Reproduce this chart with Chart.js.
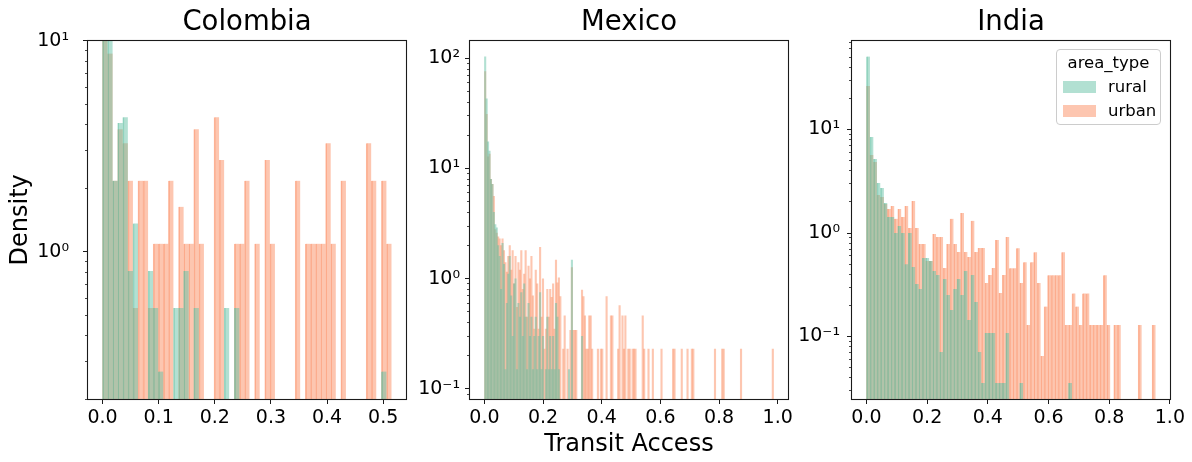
<!DOCTYPE html>
<html><head><meta charset="utf-8">
<script src="https://cdn.jsdelivr.net/npm/chart.js@4.4.1/dist/chart.umd.min.js"></script>
<style>
html,body{margin:0;padding:0;background:#fff;}
#wrap{position:relative;width:1192px;height:462px;overflow:hidden;background:#fff;}
canvas{position:absolute;top:0;}
#legend{position:absolute;left:1056px;top:49px;width:103px;height:74px;border:1px solid #cccccc;border-radius:4px;background:rgba(255,255,255,0.8);font-family:'DejaVu Sans',sans-serif;font-size:16.5px;color:#000;z-index:5;}
#legend .t{position:absolute;left:0;right:0;top:2px;line-height:22px;text-align:center;}
#legend .sw{position:absolute;left:6px;width:33px;height:12px;}
#legend .lab{position:absolute;left:51px;line-height:22px;}
</style></head><body>
<div id="wrap">
<canvas id="c1" width="420" height="462" style="left:0px"></canvas>
<canvas id="c2" width="380" height="462" style="left:420px"></canvas>
<canvas id="c3" width="392" height="462" style="left:800px"></canvas>
<div id="legend">
  <div class="t">area_type</div>
  <div class="sw" style="top:31px;background:rgba(102,194,165,0.5)"></div><div class="lab" style="top:26px">rural</div>
  <div class="sw" style="top:55px;background:rgba(252,141,98,0.5)"></div><div class="lab" style="top:50px">urban</div>
</div>
</div>
<script>
// ---------------- data ----------------
const panelTitles = ['Colombia', 'Mexico', 'India'];
const seriesNames = ['rural', 'urban'];

const colombiaBinWidth = 0.009033;
const colombiaRural = [
  12, 12, 2.17, 4.07, 4.34, 0.81, 1.36, 0, 0, 0.81,
  0.54, 0.27, 0, 0, 0.54, 0.54, 0.81, 0, 0.54, 0,
  0, 0, 0, 0, 0.54, 0, 0.54, 0, 0, 0,
  0, 0, 0, 0, 0, 0, 0, 0, 0, 0,
  0, 0, 0, 0, 0, 0, 0, 0, 0, 0,
  0, 0, 0, 0, 0, 0.27, 0];
const colombiaUrban = [
  11, 8.69, 2.17, 3.8, 3.26, 2.17, 0.54, 2.17, 2.17, 0.54,
  1.09, 1.09, 1.09, 2.17, 0, 1.63, 1.09, 1.09, 3.8, 1.09,
  0, 0, 4.34, 2.72, 0, 0, 1.09, 1.09, 2.17, 0,
  1.09, 0, 2.72, 1.09, 0, 0, 0, 0, 2.17, 0,
  1.09, 1.09, 1.09, 1.09, 3.26, 1.09, 0, 2.17, 0, 0,
  0, 0, 3.26, 2.17, 0, 2.17, 1.09];

const mexicoBinWidth = 0.00493;
const mexicoRural = [
  103, 43, 17.5, 14.4, 8.0, 7.2, 4.0, 3.1, 2.9, 2.0,
  1.6, 0.8, 2.1, 1.35, 0.15, 0.6, 1.1, 1.6, 0.7, 0.3,
  0.9, 1.0, 0.15, 0.6, 0.45, 0.75, 0.3, 0.9, 0.45, 0.15,
  0.6, 0.3, 0.45, 0.15, 0.3, 0.45, 0.15, 0.3, 0.75, 0.15,
  0.3, 0, 0.15, 0.45, 0.15, 0.3, 0.15, 0.3, 0.15, 0.6,
  0.45, 0.15, 0, 0, 0, 0, 0, 0, 0.15, 0,
  1.48, 0, 0, 0, 0, 0, 0, 0.3, 0, 0,
  0, 0, 0, 0, 0, 0, 0, 0, 0, 0,
  0, 0, 0, 0, 0, 0, 0, 0, 0, 0,
  0, 0, 0, 0, 0, 0, 0, 0, 0, 0,
  0, 0, 0, 0, 0, 0, 0, 0, 0, 0,
  0, 0, 0, 0, 0, 0, 0, 0, 0, 0,
  0, 0, 0, 0, 0, 0, 0, 0, 0, 0,
  0, 0, 0, 0, 0, 0, 0, 0, 0, 0,
  0, 0, 0, 0, 0, 0, 0, 0, 0, 0,
  0, 0, 0, 0, 0, 0, 0, 0, 0, 0,
  0, 0, 0, 0, 0, 0, 0, 0, 0, 0,
  0, 0, 0, 0, 0, 0, 0, 0, 0, 0,
  0, 0, 0, 0, 0, 0, 0, 0, 0, 0,
  0, 0, 0, 0, 0, 0, 0, 0, 0, 0];
const mexicoUrban = [
  76, 31, 12.8, 13.5, 8.0, 7.2, 5.6, 2.8, 2.6, 2.4,
  2.3, 2.0, 2.3, 1.8, 1.4, 1.15, 1.6, 2.0, 1.2, 1.8,
  0.9, 1.6, 0.55, 1.4, 1.2, 1.8, 0.8, 1.1, 1.8, 0.45,
  1.3, 1.0, 1.6, 0.7, 0.35, 1.2, 0.9, 0.35, 1.93, 0.45,
  1.0, 0.23, 0.35, 0.8, 0.45, 0.8, 0.68, 0.9, 0.35, 1.48,
  0.92, 1.02, 0.69, 0, 0.23, 0.46, 0, 0.23, 0, 0.34,
  1.26, 0.34, 0.34, 0.34, 0, 0, 0, 0.79, 0.69, 0.46,
  0.23, 0.23, 0.46, 0.46, 0.23, 0, 0, 0, 0.23, 0,
  0.23, 0.23, 0, 0, 0.69, 0, 0, 0.46, 0.46, 0,
  0, 0, 0.23, 0.57, 0, 0.46, 0.23, 0.46, 0, 0.23,
  0.23, 0, 0.23, 0.23, 0.23, 0, 0, 0, 0, 0.46,
  0.23, 0, 0, 0.23, 0, 0, 0.23, 0, 0, 0,
  0, 0, 0.23, 0, 0, 0, 0, 0, 0, 0,
  0.23, 0.23, 0, 0, 0, 0, 0.23, 0, 0, 0,
  0.23, 0, 0, 0.23, 0.23, 0, 0, 0, 0, 0,
  0, 0, 0, 0, 0, 0, 0, 0, 0, 0.23,
  0, 0, 0, 0, 0.23, 0.23, 0, 0, 0, 0,
  0, 0, 0, 0, 0, 0, 0, 0.23, 0, 0,
  0, 0, 0, 0, 0, 0, 0, 0, 0, 0,
  0, 0, 0, 0, 0, 0, 0, 0, 0, 0.23];

const indiaBinWidth = 0.01148;
const indiaRural = [
  50.6, 8.46, 5.19, 3.04, 2.72, 1.95, 1.43, 1.43, 1.0, 1.17,
  1.0, 0.50, 1.0, 0.469, 0.322, 0.288, 0.574, 0.574, 0.537, 0.43,
  0.393, 0.0708, 0.36, 0.252, 0.18, 0.288, 0.36, 0.252, 0.43, 0.144,
  0.393, 0.216, 0.0708, 0.0356, 0.108, 0.108, 0.108, 0.0356, 0.0356, 0.0356,
  0.108, 0, 0, 0, 0.0356, 0, 0, 0, 0, 0,
  0, 0, 0, 0, 0, 0, 0, 0, 0.0356, 0,
  0, 0, 0, 0, 0, 0, 0, 0, 0, 0,
  0, 0, 0, 0, 0, 0, 0, 0, 0, 0,
  0, 0, 0];
const indiaUrban = [
  26.3, 5.67, 4.85, 2.33, 2.23, 1.91, 1.71, 1.82, 1.37, 1.71,
  1.43, 1.82, 1.12, 2.04, 1.12, 0.783, 0.783, 0.537, 0.537, 0.978,
  0.915, 0.915, 0.459, 0.783, 1.37, 0.783, 0.655, 1.56, 0.655, 0.586,
  1.31, 0.655, 0.716, 0.716, 0.329, 0.393, 0.459, 0.856, 0.263, 0.393,
  0.915, 0.456, 0.456, 0.711, 0.329, 0.521, 0.129, 0.521, 0.651, 0.329,
  0.0648, 0.195, 0.39, 0.39, 0.39, 0.39, 0.651, 0.129, 0.129, 0.261,
  0.195, 0.129, 0.261, 0.261, 0.129, 0.129, 0.129, 0.129, 0.39, 0.129,
  0, 0.129, 0.129, 0, 0, 0, 0, 0, 0.129, 0,
  0, 0, 0.129];

const xTicksColombia = [0, 0.1, 0.2, 0.3, 0.4, 0.5];
const xTicksWide = [0, 0.2, 0.4, 0.6, 0.8, 1.0];
const yMajorColombia = [1, 10];
const yMajorMexico = [0.1, 1, 10, 100];
const yMajorIndia = [0.1, 1, 10];
const yTickLabels = {'0.1': '10\u207B\u00B9', '1': '10\u2070', '10': '10\u00B9', '100': '10\u00B2'};

// ---------------- rendering ----------------
Chart.defaults.font.family = "'DejaVu Sans', sans-serif";
Chart.defaults.color = '#000';

const ruralFill = 'rgba(102,194,165,0.5)';
const urbanFill = 'rgba(252,141,98,0.5)';
const ruralEdge = 'rgba(102,194,165,0.62)';
const urbanEdge = 'rgba(252,141,98,0.62)';
const TICK_FONT = {size: 19};

function toPoints(values, w) {
  return values.map((v, i) => ({x: (i + 0.5) * w, y: v > 0 ? v : null}));
}
function minorTicks(min, max) {
  const out = [];
  for (let e = Math.floor(Math.log10(min)) ; e <= Math.ceil(Math.log10(max)); e++) {
    for (let m = 2; m <= 9; m++) {
      const v = m * Math.pow(10, e);
      if (v >= min * 0.999 && v <= max * 1.001) out.push(v);
    }
  }
  return out;
}
const framePlugin = {
  id: 'frame',
  afterDatasetsDraw(chart) {
    const {ctx, chartArea: a} = chart;
    const l = Math.round(a.left), t = Math.round(a.top), r = Math.round(a.right), b = Math.round(a.bottom);
    ctx.save();
    ctx.strokeStyle = '#1a1a1a';
    ctx.lineWidth = 1.1;
    ctx.strokeRect(l - 0.5, t - 0.5, r - l + 1, b - t + 1);
    ctx.restore();
  }
};

function makeChart(id, cfg) {
  const edge = cfg.edge ? {left: 1, top: 0, right: 0, bottom: 0} : 0;
  const common = {grouped: false, barPercentage: 1, categoryPercentage: 1, borderWidth: edge, xAxisID: 'x', yAxisID: 'y'};
  new Chart(document.getElementById(id), {
    type: 'bar',
    data: {
      datasets: [
        Object.assign({label: seriesNames[0], data: toPoints(cfg.rural, cfg.w), backgroundColor: ruralFill, borderColor: ruralEdge}, common),
        Object.assign({label: seriesNames[1], data: toPoints(cfg.urban, cfg.w), backgroundColor: urbanFill, borderColor: urbanEdge}, common)
      ]
    },
    options: {
      responsive: false,
      animation: false,
      events: [],
      layout: {padding: {left: 0, right: cfg.padRight, top: 0, bottom: 0}},
      plugins: {
        legend: {display: false},
        tooltip: {enabled: false},
        title: {display: true, text: cfg.title, fullSize: false, color: '#000',
                font: {size: 27.5, weight: 'normal', lineHeight: 1.2}, padding: {top: 6.7, bottom: 1}}
      },
      scales: {
        x: {
          type: 'linear', position: 'bottom', min: cfg.xMin, max: cfg.xMax, offset: false,
          afterBuildTicks: s => { s.ticks = cfg.xTicks.map(v => ({value: v})); },
          afterFit: s => { s.height = 63; },
          ticks: {autoSkip: false, maxRotation: 0, color: '#000', font: TICK_FONT, padding: 3,
                  callback: v => Number(v).toFixed(1)},
          grid: {drawOnChartArea: false, drawTicks: true, tickLength: 5, color: '#1a1a1a', offset: false},
          border: {display: false},
          title: cfg.xTitle ? {display: true, text: cfg.xTitle, color: '#000',
                  font: {size: 24, lineHeight: 1.2}, padding: {top: 0, bottom: 2.6}} : {display: false}
        },
        y: {
          type: 'logarithmic', position: 'left', min: cfg.yMin, max: cfg.yMax, weight: 1,
          afterBuildTicks: s => { s.ticks = cfg.yMajor.map(v => ({value: v, major: true})); },
          afterFit: s => { s.width = cfg.yWidth; },
          ticks: {autoSkip: false, color: '#000', font: TICK_FONT, padding: cfg.yPad,
                  callback: v => yTickLabels[String(v)] || ''},
          grid: {drawOnChartArea: false, drawTicks: true, tickLength: 5, color: '#1a1a1a'},
          border: {display: false},
          title: cfg.yTitle ? {display: true, text: cfg.yTitle, color: '#000',
                  font: {size: 24, lineHeight: 1.2}, padding: {top: 6.3, bottom: 0}} : {display: false}
        },
        yMinor: {
          type: 'logarithmic', position: 'left', min: cfg.yMin, max: cfg.yMax, weight: 0,
          afterBuildTicks: s => { s.ticks = minorTicks(cfg.yMin, cfg.yMax).map(v => ({value: v})); },
          afterFit: s => { s.width = 0; },
          ticks: {display: false, autoSkip: false},
          grid: {drawOnChartArea: false, drawTicks: true, tickLength: 3, color: '#1a1a1a', lineWidth: 0.8},
          border: {display: false}
        }
      }
    },
    plugins: [framePlugin]
  });
}

makeChart('c1', {title: panelTitles[0], rural: colombiaRural, urban: colombiaUrban, w: colombiaBinWidth,
  xMin: -0.0258, xMax: 0.5406, xTicks: xTicksColombia, yMin: 0.2, yMax: 10, yMajor: yMajorColombia,
  yWidth: 88, yPad: 14, padRight: 14, yTitle: 'Density', edge: true});
makeChart('c2', {title: panelTitles[1], rural: mexicoRural, urban: mexicoUrban, w: mexicoBinWidth,
  xMin: -0.0493, xMax: 1.0353, xTicks: xTicksWide, yMin: 0.0811, yMax: 144.5, yMajor: yMajorMexico,
  yWidth: 50, yPad: 5, padRight: 12, xTitle: 'Transit Access', edge: false});
makeChart('c3', {title: panelTitles[2], rural: indiaRural, urban: indiaUrban, w: indiaBinWidth,
  xMin: -0.0476, xMax: 1.0004, xTicks: xTicksWide, yMin: 0.0249, yMax: 72.1, yMajor: yMajorIndia,
  yWidth: 52, yPad: 7, padRight: 22, edge: true});
</script>
</body></html>
